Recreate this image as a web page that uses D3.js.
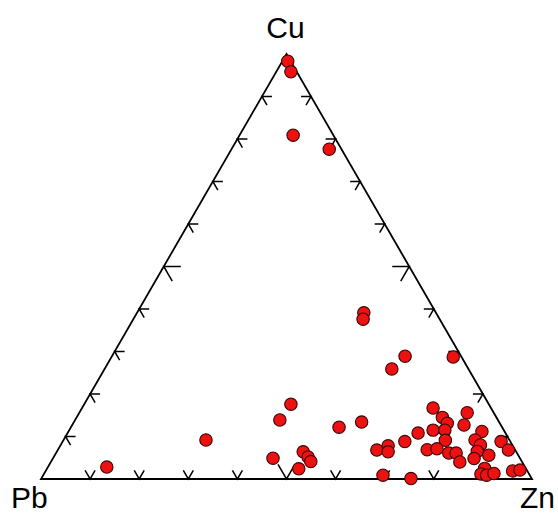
<!DOCTYPE html>
<html>
<head>
<meta charset="utf-8">
<script src="https://cdn.jsdelivr.net/npm/d3@7"></script>
<style>
html,body{margin:0;padding:0;background:#fff;}
svg{display:block;}
</style>
</head>
<body>
<svg id="chart" width="558" height="515"></svg>
<script>
// Apex labels
const apexLabels = ["Cu", "Pb", "Zn"];
// Tick positions along each edge (percent)
const tickValues = [10, 20, 30, 40, 50, 60, 70, 80, 90];
const majorTicks = [50];

// Sample compositions (percent)
const cu = [98.3,95.8,80.9,77.6,39.1,37.6,28.9,25.9,28.7,17.6,13.9,9.2,2.8,4.9,2.4,6.4,5.2,4.1,12.2,13.4,
            6.8,7.8,6.4,0.9,0.1,8.8,10.8,16.7,14.5,13.1,11.5,11.5,9.1,6.9,7.1,6.1,6.1,4.0,15.6,12.7,
            11.2,9.2,8.0,6.5,4.8,5.6,8.8,6.8,2.5,1.2,0.9,1.3,1.9,2.1];
const pb = [0.6,1.2,8.2,2.5,14.7,15.6,11.4,15.6,1.7,40.3,44.4,61.8,85.2,50.3,46.3,43.4,43.0,43.0,33.2,28.0,
            28.2,25.4,26.1,29.9,24.6,21.5,17.8,11.8,11.0,10.7,14.4,12.0,13.1,17.9,15.8,13.9,12.4,12.7,5.4,7.5,
            4.6,7.0,6.5,7.9,9.4,6.0,1.9,1.4,8.4,9.8,8.8,7.1,3.0,1.4];
const zn = cu.map((c, i) => 100 - c - pb[i]);

const svg = d3.select("#chart");

// Cartesian scales for the ternary projection
const xScale = d3.scaleLinear().domain([0, 100]).range([41, 532]);   // Zn + Cu/2
const yScale = d3.scaleLinear().domain([0, 100]).range([479, 54]);   // Cu

function project(c, z) {
  return [xScale(z + c / 2), yScale(c)];
}

const vCu = project(100, 0), vPb = project(0, 0), vZn = project(0, 100);

// Triangle frame
svg.append("path")
  .attr("d", d3.line()([vPb, vZn, vCu, vPb]) + "Z")
  .attr("fill", "none")
  .attr("stroke", "#000")
  .attr("stroke-width", 1.8)
  .attr("stroke-linejoin", "miter");

function unit(a, b) {
  const dx = b[0] - a[0], dy = b[1] - a[1], L = Math.hypot(dx, dy);
  return [dx / L, dy / L];
}
const dPbZn = unit(vPb, vZn);
const dPbCu = unit(vPb, vCu);
const dZnCu = unit(vZn, vCu);

const tickG = svg.append("g").attr("stroke", "#000").attr("stroke-width", 1.5).attr("fill", "none");
function tick(p, a1, a2, len) {
  tickG.append("path").attr("d",
    `M${p[0] + a1[0] * len},${p[1] + a1[1] * len}L${p[0]},${p[1]}L${p[0] + a2[0] * len},${p[1] + a2[1] * len}`);
}
tickValues.forEach(t => {
  const len = majorTicks.includes(t) ? 17 : 10;
  tick(project(0, t), dPbCu, dZnCu, len);
  tick(project(t, 0), dPbZn, [-dZnCu[0], -dZnCu[1]], len);
  tick(project(t, 100 - t), [-dPbZn[0], -dPbZn[1]], [-dPbCu[0], -dPbCu[1]], len);
});

// Points
svg.append("g").selectAll("circle")
  .data(cu.map((c, i) => ({ c, p: pb[i], z: zn[i] })))
  .join("circle")
  .attr("cx", d => project(d.c, d.z)[0])
  .attr("cy", d => project(d.c, d.z)[1])
  .attr("r", 6.2)
  .attr("fill", "#ee1111")
  .attr("stroke", "#3a0505")
  .attr("stroke-width", 1.1);

// Apex labels
const font = "'Liberation Sans', Arial, sans-serif";
svg.append("text").text(apexLabels[0])
  .attr("x", vCu[0] - 1).attr("y", 38)
  .attr("text-anchor", "middle")
  .attr("font-family", font).attr("font-size", 30).attr("fill", "#000");
svg.append("text").text(apexLabels[1])
  .attr("x", 11).attr("y", 508)
  .attr("font-family", font).attr("font-size", 30).attr("fill", "#000");
svg.append("text").text(apexLabels[2])
  .attr("x", 520).attr("y", 508)
  .attr("font-family", font).attr("font-size", 30).attr("fill", "#000");
</script>
</body>
</html>
